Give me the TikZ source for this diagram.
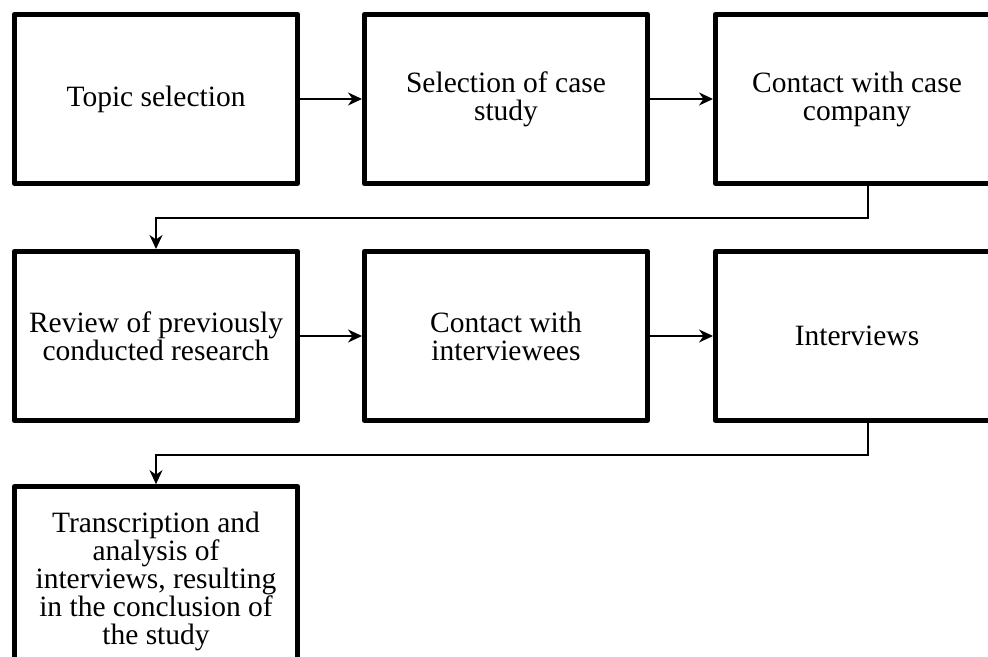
\documentclass[tikz,border=0pt]{standalone}
\usepackage{fontspec}
\setmainfont{Liberation Serif}
\usetikzlibrary{arrows.meta}
\begin{document}
\begin{tikzpicture}[x=1pt,y=1pt,
  stepbox/.style={draw, line width=4.7pt, line join=round, minimum width=283.3pt, minimum height=169.3pt,
    align=center, inner sep=0pt, font=\fontsize{29.5}{28}\selectfont},
  arr/.style={line width=1.8pt, -{Stealth[length=14pt,width=13pt,inset=4.5pt]}}]
\useasboundingbox (0,0) rectangle (988,656);
\clip (0,0) rectangle (988,656);
\fill[white] (0,0) rectangle (988,656);
\node[stepbox] (b1) at (156,557) {Topic selection};
\node[stepbox] (b2) at (506,557) {Selection of case\\study};
\node[stepbox] (b3) at (857,557) {Contact with case\\company};
\node[stepbox] (b4) at (156,320) {Review of previously\\conducted research};
\node[stepbox] (b5) at (506,320) {Contact with\\interviewees};
\node[stepbox] (b6) at (857,320) {Interviews};
\node[stepbox, minimum height=189pt] (b7) at (156,75) {Transcription and\\analysis of\\interviews, resulting\\in the conclusion of\\the study};
\draw[arr] (b1) -- (b2);
\draw[arr] (b2) -- (b3);
\draw[arr] (b4) -- (b5);
\draw[arr] (b5) -- (b6);
\coordinate (c1) at ([xshift=11pt]b3.south);
\coordinate (c2) at ([xshift=11pt]b6.south);
\draw[arr] (c1) -- ++(0,-32) -| (b4.north);
\draw[arr] (c2) -- ++(0,-32) -| (b7.north);
\end{tikzpicture}
\end{document}
